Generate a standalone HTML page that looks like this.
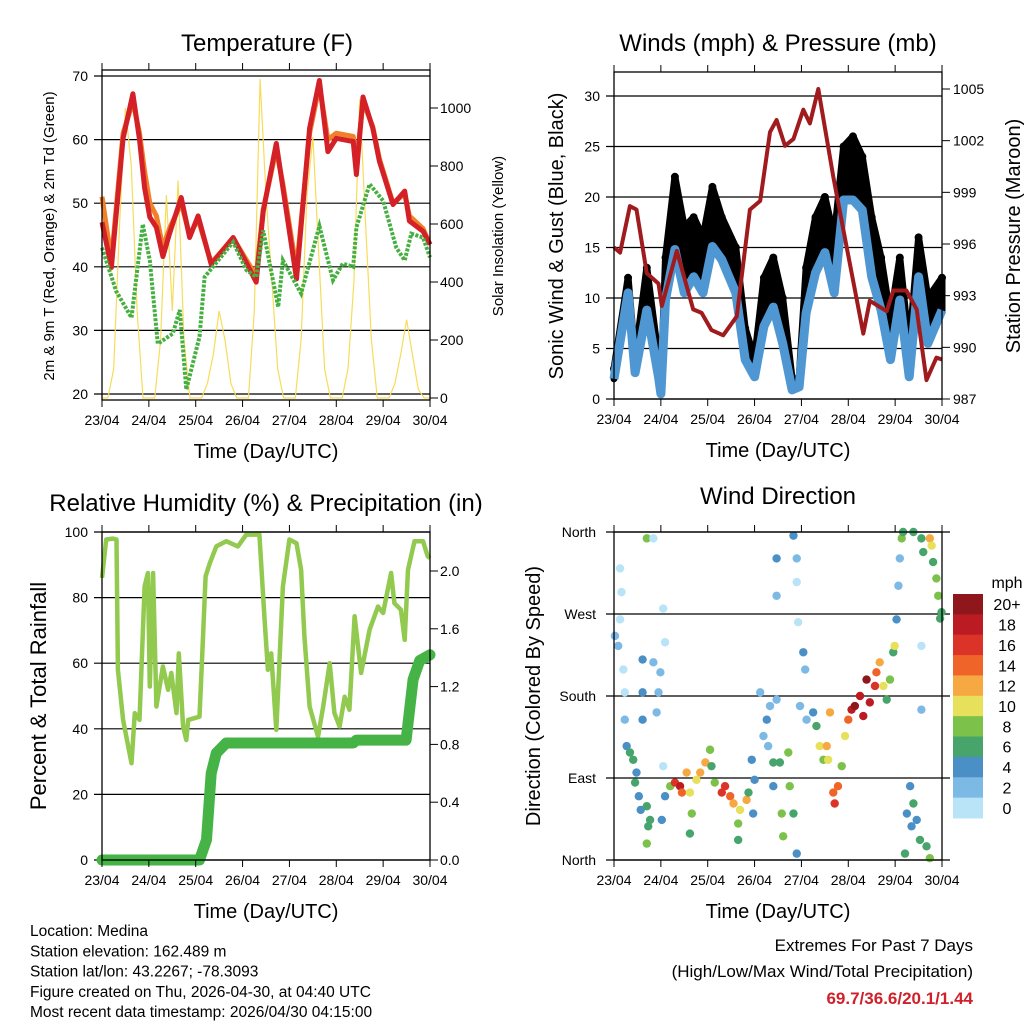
<!DOCTYPE html>
<html><head><meta charset="utf-8"><style>
html,body{margin:0;padding:0;background:#fff;}
svg{display:block;font-family:"Liberation Sans",Arial,sans-serif;}
</style></head><body>
<svg id="c" width="1024" height="1024" viewBox="0 0 1024 1024"></svg>
<script>
// ---------- data ----------
const dayLabels=["23/04","24/04","25/04","26/04","27/04","28/04","29/04","30/04"];
// temperature panel
const tempT=[0,0.2,0.45,0.66,0.8,0.91,1.02,1.16,1.3,1.44,1.69,1.87,2.05,2.33,2.8,3.29,3.44,3.72,3.86,4.15,4.43,4.64,4.82,5.0,5.36,5.43,5.57,5.78,5.92,6.21,6.46,6.56,6.85,7];
const tempRed=[47,39.9,60.2,67.2,60,52.4,47.8,46.2,41.6,45.2,50.9,44.6,48,40.4,44.6,37.6,48.7,59.4,52.4,38.1,61.8,69.3,58.1,60.2,59.7,54.5,66.7,61.8,56.6,49.8,51.9,47.2,45.6,43.5];
const tempOrange=[51,41,61,66,61,55,50,48,43,46,50,45,47.5,40.6,44.5,38.5,49,58.5,53,39.5,61,68.5,60,61,60.5,56,66,62,57,50,51.5,48,46,43.5];
const dewT=[0,0.3,0.63,0.87,1.02,1.19,1.51,1.66,1.8,2.08,2.19,2.8,3.08,3.29,3.44,3.76,3.86,4.25,4.64,4.93,5.14,5.36,5.43,5.71,6.0,6.28,6.46,6.6,6.85,7];
const dewVals=[43,36.2,32,46.7,41,27.9,29.5,33.2,20.7,29,38.4,43.9,39.5,38.4,45.7,33.7,41,35.8,46.4,37.9,40.5,40,46.2,53,50.4,43,41,45.2,44.6,41.5];
const solarStep=0.125;
const solarVals=[0,0,100,600,1000,800,300,0, 0,0,200,700,300,750,200,0, 0,0,50,150,300,200,50,0, 0,0,300,1100,700,400,100,0, 0,0,200,700,900,500,100,0, 0,0,100,400,1030,600,200,0, 0,0,50,150,270,150,30,0, 0];
const tempTicks=[20,30,40,50,60,70];
const solarTicks=[0,200,400,600,800,1000];
// wind panel
const windT=[0,0.3,0.45,0.7,0.95,1.0,1.1,1.3,1.5,1.7,1.9,2.1,2.3,2.6,2.8,3.0,3.2,3.4,3.6,3.8,3.95,4.1,4.3,4.5,4.7,4.9,5.1,5.3,5.5,5.7,5.9,6.1,6.3,6.5,6.7,7];
const windVals=[2,10.5,2.6,8.8,2.2,0.5,9.8,14.8,10.5,12.1,10.5,15.1,13.8,10.5,3.9,2.2,7.2,9.1,5.5,0.9,1.2,8.5,12.5,14.5,10.5,19.7,19.7,18.7,12.1,8.8,3.9,9.8,2.2,12.1,5.5,8.8];
const gustVals=[3,12,4,13,4,1,14,22,17,18,16,21,18,15,7,4,12,14,10,2,2,13,18,20,16,25,26,24,18,14,8,14,5,16,10,12];
const presT=[0,0.13,0.34,0.48,0.7,0.95,1.02,1.34,1.69,1.87,2.08,2.33,2.62,2.9,3.12,3.33,3.47,3.65,3.83,4.04,4.18,4.36,4.68,4.96,5.32,5.46,5.82,5.96,6.24,6.46,6.67,6.88,7];
const presVals=[995.8,995.5,998.2,998.0,994.3,993.7,992.4,995.6,992.2,992.0,991.0,990.7,991.8,998,998.5,1002.5,1003.2,1001.7,1002.1,1003.8,1003.0,1005,999.9,995.9,990.8,992.7,992.1,993.3,993.3,992.2,988.1,989.4,989.3];
const windTicks=[0,5,10,15,20,25,30];
const presTicks=[987,990,993,996,999,1002,1005];
// humidity panel
const rhT=[0,0.09,0.23,0.31,0.34,0.45,0.63,0.7,0.8,0.91,0.98,1.02,1.09,1.16,1.3,1.41,1.48,1.59,1.64,1.73,1.8,1.84,2.08,2.14,2.21,2.3,2.44,2.65,2.9,3.08,3.36,3.47,3.54,3.61,3.72,3.86,4.0,4.15,4.25,4.32,4.43,4.61,4.72,4.86,4.96,5.07,5.18,5.28,5.39,5.53,5.71,5.89,6.0,6.17,6.24,6.38,6.46,6.53,6.67,6.85,6.95,7];
const rhVals=[86,97.7,98,97.7,58,42.7,29.5,44.8,42.7,83.4,87.5,52.9,87.5,46.8,59,51.9,57,44.8,63,40.7,36.6,42.7,43.7,63,86.5,90.5,95.6,97.2,95.6,99.2,99.2,73.2,58,63,39.7,83.4,97.7,96.6,88.5,68.2,46.8,37.6,46.8,60,44.8,40.7,49.8,45.8,74.3,57,70.2,77.3,75.3,87.5,78.3,76.3,67.1,88.5,97.2,97.2,92.6,92];
const rainT=[0,2.08,2.23,2.33,2.44,2.65,5.36,5.43,6.49,6.64,6.78,7];
const rainVals=[0,0,0.14,0.6,0.74,0.81,0.81,0.83,0.83,1.25,1.38,1.42];
const rhTicks=[0,20,40,60,80,100];
const rainTicks=[0.0,0.4,0.8,1.2,1.6,2.0];
// direction panel
const dirT=[0.02,0.09,0.13,0.16,0.13,0.2,0.23,0.23,0.27,0.34,0.41,0.48,0.45,0.53,0.57,0.61,0.61,0.61,0.7,0.73,0.7,0.77,0.84,0.91,0.95,0.99,1.05,1.09,1.05,1.09,1.02,1.2,1.3,1.41,1.45,1.55,1.62,1.66,1.62,1.76,1.84,1.95,2.05,2.08,2.15,2.3,2.37,2.48,2.55,2.69,2.83,2.65,2.65,2.87,2.94,2.97,3.0,3.12,3.19,3.26,3.29,3.33,3.4,3.47,3.4,3.47,3.47,3.54,3.58,3.61,3.72,3.75,3.83,3.83,3.9,3.9,3.93,3.9,3.97,4.04,4.08,4.11,4.25,4.32,4.39,4.47,4.54,4.57,4.61,4.68,4.71,4.78,4.86,4.93,5.0,5.07,5.14,5.25,5.32,5.39,5.46,5.57,5.6,5.67,5.75,5.82,5.89,5.96,5.99,6.03,6.07,6.1,6.14,6.17,6.39,6.56,6.6,6.74,6.78,6.81,6.88,6.92,6.99,6.96,6.25,6.32,6.39,6.35,6.46,6.53,6.21,6.67,6.74,6.56,6.56,0.7,0.84];
const dirDeg=[246,235,264,294,320,209,184,154,125,118,110,96,85,70,55,220,184,154,59,37,18,44,217,162,184,206,276,239,103,70,44,81,85,81,74,96,74,51,29,88,96,107,121,103,85,74,81,70,62,55,66,40,22,74,110,51,88,184,136,154,125,169,107,176,81,331,290,107,51,26,118,81,51,356,331,305,261,7,169,228,209,154,162,147,125,110,125,110,162,74,62,81,103,136,154,165,169,180,158,198,173,191,206,217,191,176,198,228,235,264,301,331,353,360,360,353,338,353,345,327,309,290,272,265,51,81,62,37,44,22,7,15,2,165,235,353,353];
const dirSpd=[2,2,1,0,0,1,1,2,4,6,7,4,6,4,4,4,4,4,6,6,8,6,2,2,2,2,1,1,0,4,4,8,16,18,14,12,10,8,6,10,12,12,8,6,8,16,16,14,12,10,12,8,6,6,4,4,4,2,2,4,2,2,6,2,4,4,2,6,8,8,8,8,6,4,2,1,0,4,2,4,2,2,4,6,10,8,12,10,12,14,16,14,8,10,14,18,20,18,18,20,18,16,14,12,10,6,8,6,10,4,2,2,8,6,6,6,6,12,10,6,8,8,6,6,4,4,6,4,4,6,6,6,8,2,0,8,0];
const dirTicks=["North","East","South","West","North"];
const speedLabels=["20+","18","16","14","12","10","8","6","4","2","0"];
const speedColors=["#8f171c","#bb1c24","#dc3328","#ef6529","#f6a943","#e6e05a","#7bc14a","#47a56c","#4a8fc6","#7db9e5","#b9e4f8"];
const extremes="69.7/36.6/20.1/1.44";

// ---------- helpers ----------
const NS="http://www.w3.org/2000/svg";
const svg=document.getElementById('c');
function mk(tag,attrs,parent){const e=document.createElementNS(NS,tag);for(const k in attrs)e.setAttribute(k,attrs[k]);(parent||svg).appendChild(e);return e;}
function txt(s,x,y,size,anchor,parent,extra){const e=mk('text',Object.assign({x:x,y:y,'font-size':size,'text-anchor':anchor||'middle',fill:'#000'},extra||{}),parent);e.textContent=s;return e;}
function linScale(d0,d1,r0,r1){return v=>r0+(v-d0)*(r1-r0)/(d1-d0);}
function polyPts(ts,vs,xs,ys){return ts.map((t,i)=>xs(t).toFixed(1)+','+ys(vs[i]).toFixed(1)).join(' ');}

function panelFrame(g,L,R,T,B,xs){
  dayLabels.forEach((lab,i)=>{
    const x=xs(i);
    mk('line',{x1:x,x2:x,y1:B,y2:B+7,stroke:'#000','stroke-width':1},g);
    mk('line',{x1:x,x2:x,y1:T,y2:T-7,stroke:'#000','stroke-width':1},g);
    const t=txt(lab,x,B+25,14,'middle',g);
    
    
  });
  const xt=txt('Time (Day/UTC)',(L+R)/2,B+58,20,'middle',g);
  
  
}
function box(g,L,R,T,B){mk('rect',{x:L,y:T,width:R-L,height:B-T,fill:'none',stroke:'#000','stroke-width':1.3},g);}
function grid(g,L,R,y){mk('line',{x1:L,x2:R,y1:y,y2:y,stroke:'#000','stroke-width':1.2},g);}

// ---------- Panel 1: temperature ----------
(function(){
  const g=mk('g',{});
  
  
  const L=102,R=430,T=70,B=400;
  const xs=linScale(0,7,L,R), ys=linScale(20,70,394,76), ss=linScale(0,1000,398,108);
  tempTicks.forEach(v=>{grid(g,L-8,R,ys(v));const t=txt(String(v),L-14,ys(v)+5,14,'end',g);});
  solarTicks.forEach(v=>{mk('line',{x1:R,x2:R+8,y1:ss(v),y2:ss(v),stroke:'#000'},g);const t=txt(String(v),R+10,ss(v)+5,14,'start',g);});
  const st=solarVals.map((v,i)=>i*solarStep);
  const sol=mk('polyline',{points:polyPts(st,solarVals,xs,ss),fill:'none',stroke:'#f7dc5a','stroke-width':1.2},g);
  
  
  const orr=mk('polyline',{points:polyPts(tempT,tempOrange,xs,ys),fill:'none',stroke:'#f0802a','stroke-width':5,'stroke-linejoin':'round'},g);
  
  
  const red=mk('polyline',{points:polyPts(tempT,tempRed,xs,ys),fill:'none',stroke:'#d42027','stroke-width':5,'stroke-linejoin':'round'},g);
  
  
  const dew=mk('polyline',{points:polyPts(dewT,dewVals,xs,ys),fill:'none',stroke:'#45b040','stroke-width':4,'stroke-dasharray':'3 1.5'},g);
  
  
  box(g,L,R,T,B);
  panelFrame(g,L,R,T,B,xs);
  const ti=txt('Temperature (F)',267,51,24,'middle',g);
  
  
  const yl=txt('2m & 9m T (Red, Orange) & 2m Td (Green)',0,0,15,'middle',g,{transform:'translate(54,236) rotate(-90)'});
  
  
  const yr=txt('Solar Insolation (Yellow)',0,0,15,'middle',g,{transform:'translate(503,236) rotate(-90)'});
  
  
})();

// ---------- Panel 2: winds ----------
(function(){
  const g=mk('g',{});
  
  
  const L=614,R=942,T=72,B=399;
  const xs=linScale(0,7,L,R), ys=linScale(0,30,399,96), ps=linScale(987,1005,399,89);
  windTicks.forEach(v=>{grid(g,L-8,R,ys(v));const t=txt(String(v),L-14,ys(v)+5,14,'end',g);});
  presTicks.forEach(v=>{mk('line',{x1:R,x2:R+8,y1:ps(v),y2:ps(v),stroke:'#000'},g);const t=txt(String(v),R+11,ps(v)+5,14,'start',g);});
  // gust cloud: band between wind and gust values
  const up=windT.map((t,i)=>xs(t).toFixed(1)+','+ys(gustVals[i]).toFixed(1));
  const dn=windT.map((t,i)=>xs(t).toFixed(1)+','+ys(windVals[i]).toFixed(1)).reverse();
  const gb=mk('polygon',{points:up.concat(dn).join(' '),fill:'#000',stroke:'#000','stroke-width':7,'stroke-linejoin':'round'},g);
  
  
  windT.forEach((t,i)=>{const c=mk('circle',{cx:xs(t),cy:ys(gustVals[i]),r:4,fill:'#000'},g);
    
    });
  const wl=mk('polyline',{points:polyPts(windT,windVals,xs,ys),fill:'none',stroke:'#4f97d3','stroke-width':9,'stroke-linejoin':'round'},g);
  
  
  const pl=mk('polyline',{points:polyPts(presT,presVals,xs,ps),fill:'none',stroke:'#a01b1e','stroke-width':4,'stroke-linejoin':'round'},g);
  
  
  box(g,L,R,T,B);
  panelFrame(g,L,R,T,B,xs);
  const ti=txt('Winds (mph) & Pressure (mb)',778,51,24,'middle',g);
  
  
  const yl=txt('Sonic Wind & Gust (Blue, Black)',0,0,20,'middle',g,{transform:'translate(563,236) rotate(-90)'});
  
  
  const yr=txt('Station Pressure (Maroon)',0,0,20,'middle',g,{transform:'translate(1020,236) rotate(-90)'});
  
  
})();

// ---------- Panel 3: humidity ----------
(function(){
  const g=mk('g',{});
  
  
  const L=102,R=430,T=532,B=860;
  const xs=linScale(0,7,L,R), ys=linScale(0,100,860,532), rs=linScale(0,2,860,571);
  rhTicks.forEach(v=>{grid(g,L-8,R,ys(v));const t=txt(String(v),L-14,ys(v)+5,14,'end',g);});
  rainTicks.forEach(v=>{mk('line',{x1:R,x2:R+8,y1:rs(v),y2:rs(v),stroke:'#000'},g);const t=txt(v.toFixed(1),R+10,rs(v)+5,14,'start',g);});
  const rh=mk('polyline',{points:polyPts(rhT,rhVals,xs,ys),fill:'none',stroke:'#92c94f','stroke-width':4.5,'stroke-linejoin':'round'},g);
  
  
  const rn=mk('polyline',{points:polyPts(rainT,rainVals,xs,rs),fill:'none',stroke:'#46b347','stroke-width':11,'stroke-linejoin':'round','stroke-linecap':'round'},g);
  
  
  box(g,L,R,T,B);
  panelFrame(g,L,R,T,B,xs);
  const ti=txt('Relative Humidity (%) & Precipitation (in)',266,511,24,'middle',g);
  
  
  const yl=txt('Percent & Total Rainfall',0,0,22,'middle',g,{transform:'translate(46,696) rotate(-90)'});
  
  
})();

// ---------- Panel 4: wind direction ----------
(function(){
  const g=mk('g',{});
  
  
  const L=614,R=942,T=532,B=860;
  const xs=linScale(0,7,L,R), ys=linScale(0,360,860,532);
  dirTicks.forEach((lab,i)=>{const y=ys(i*90);grid(g,L-8,R+8,y);const t=txt(lab,L-18,y+5,14,'end',g);});
  function colorFor(s){let idx=10-Math.min(10,Math.floor(s/2));return speedColors[idx];}
  dirT.forEach((t,i)=>{
    const c=mk('circle',{cx:xs(t),cy:ys(dirDeg[i]),r:4.2,fill:colorFor(dirSpd[i])},g);
    
    
  });
  box(g,L,R,T,B);
  panelFrame(g,L,R,T,B,xs);
  const ti=txt('Wind Direction',778,504,24,'middle',g);
  
  
  const yl=txt('Direction (Colored By Speed)',0,0,20,'middle',g,{transform:'translate(540,696) rotate(-90)'});
  
  
  const lg=mk('g',{},g);
  
  
  const bh=(818-594)/speedColors.length;
  speedColors.forEach((col,i)=>{
    const r=mk('rect',{x:953,y:594+i*bh,width:30,height:bh+0.5,fill:col},lg);
    
    
    const t=txt(speedLabels[i],1007,594+i*bh+bh/2+6,16,'middle',lg);
    
    
  });
  const mph=txt('mph',1007,588,16,'middle',lg);
  
  
})();

// ---------- footer ----------
(function(){
  const lines=["Location: Medina","Station elevation: 162.489 m","Station lat/lon: 43.2267; -78.3093","Figure created on Thu, 2026-04-30, at 04:40 UTC","Most recent data timestamp: 2026/04/30 04:15:00"];
  lines.forEach((s,i)=>{const t=txt(s,30,936+i*20.3,15.5,'start');});
  const a=txt('Extremes For Past 7 Days',973,951,17,'end');
  
  
  const b=txt('(High/Low/Max Wind/Total Precipitation)',973,977,17,'end');
  
  
  const c=txt(extremes,973,1004,17,'end',null,{fill:'#d0202a','font-weight':'bold'});
  
  
})();
</script>
</body></html>
